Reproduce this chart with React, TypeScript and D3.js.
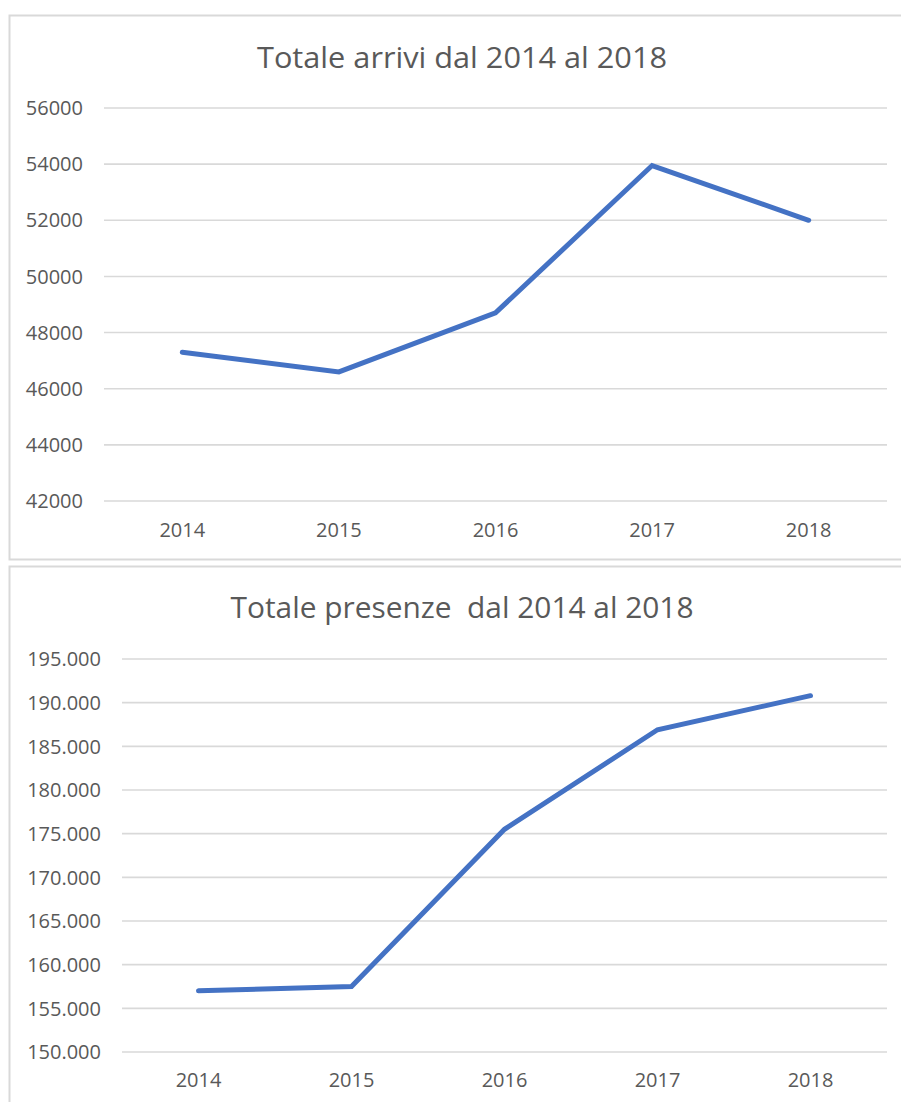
import React from 'react';
import * as d3 from 'd3';

// Data
const years = ['2014', '2015', '2016', '2017', '2018'];
const arrivi = [47300, 46600, 48700, 53950, 52000];
const presenze = [157000, 157500, 175500, 186900, 190800];
const arriviTicks = [42000, 44000, 46000, 48000, 50000, 52000, 54000, 56000];
const presenzeTicks = [150000, 155000, 160000, 165000, 170000, 175000, 180000, 185000, 190000, 195000];

const itLocale = d3.formatLocale({ decimal: ',', thousands: '.', grouping: [3], currency: ['€', ''] });
const fmtIt = itLocale.format(',d');
const fmtPlain = (d: number) => String(d);

const FONT = '"Open Sans", sans-serif';
const TEXT = '#595959';
const GRID = '#d9d9d9';
const LINE = '#4472c4';

type PanelProps = {
  top: number;
  height: number;
  title: string;
  titleY: number;
  titleLen: number;
  values: number[];
  ticks: number[];
  fmt: (d: number) => string;
  left: number;
  right: number;
  plotTop: number;
  plotBottom: number;
  xLabelY: number;
};

const Panel = (p: PanelProps) => {
  const x = d3.scaleBand().domain(years).range([p.left, p.right]);
  const y = d3.scaleLinear()
    .domain([p.ticks[0], p.ticks[p.ticks.length - 1]])
    .range([p.plotBottom, p.plotTop]);
  const line = d3.line<number>()
    .x((_, i) => x(years[i])! + x.bandwidth() / 2)
    .y(d => y(d));

  return (
    <g>
      <rect x={9.5} y={p.top} width={905} height={p.height} fill="#fff" stroke={GRID} strokeWidth={2} />
      <text x={462} y={p.titleY} textAnchor="middle" fontSize={29} fill={TEXT}
        textLength={p.titleLen} lengthAdjust="spacingAndGlyphs" style={{ whiteSpace: 'pre' }}>{p.title}</text>
      {p.ticks.map(t => (
        <g key={t}>
          <line x1={p.left} x2={p.right} y1={y(t)} y2={y(t)} stroke={GRID} strokeWidth={1.6} />
          <text x={p.left - 21} y={y(t)} dy="0.36em" textAnchor="end" fontSize={20} fill={TEXT}>{p.fmt(t)}</text>
        </g>
      ))}
      {years.map(yr => (
        <text key={yr} x={x(yr)! + x.bandwidth() / 2} y={p.xLabelY} textAnchor="middle" fontSize={20} fill={TEXT}>{yr}</text>
      ))}
      <path d={line(p.values) || ''} fill="none" stroke={LINE} strokeWidth={5} strokeLinecap="round" />
    </g>
  );
};

export default function App() {
  return (
    <div>
      <style>{'body{margin:0}'}</style>
      <svg width={901} height={1102} style={{ display: 'block', fontFamily: FONT }}>
        <rect width={901} height={1102} fill="#fff" />
        <Panel top={15.5} height={544} title="Totale arrivi dal 2014 al 2018" titleY={68} titleLen={410}
          values={arrivi} ticks={arriviTicks} fmt={fmtPlain}
          left={104} right={887} plotTop={108} plotBottom={501} xLabelY={537} />
        <Panel top={566.5} height={560} title="Totale presenze  dal 2014 al 2018" titleY={618} titleLen={463}
          values={presenze} ticks={presenzeTicks} fmt={fmtIt}
          left={122} right={887} plotTop={659} plotBottom={1052} xLabelY={1087} />
      </svg>
    </div>
  );
}
